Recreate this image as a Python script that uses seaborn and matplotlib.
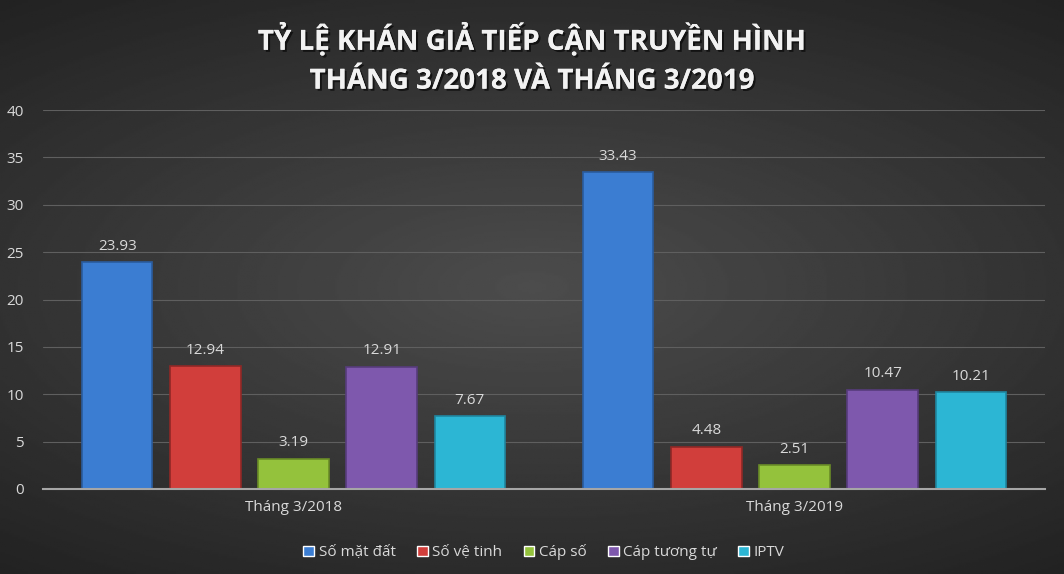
import numpy as np
import pandas as pd
import matplotlib
matplotlib.use("Agg")
import matplotlib.pyplot as plt
import matplotlib.patheffects as pe
import seaborn as sns

# Data
groups = ["Tháng 3/2018", "Tháng 3/2019"]
series = ["Số mặt đất", "Số vệ tinh", "Cáp số", "Cáp tương tự", "IPTV"]
values_2018 = [23.93, 12.94, 3.19, 12.91, 7.67]
values_2019 = [33.43, 4.48, 2.51, 10.47, 10.21]
colors = ["#3b7dd2", "#d13e3b", "#94c23c", "#7e58ad", "#2cb6d4"]
edges = ["#2a5c9e", "#8f2826", "#6a8c27", "#573c7c", "#1f86a0"]

df = pd.DataFrame({
    "group": [groups[0]] * len(series) + [groups[1]] * len(series),
    "series": series * 2,
    "value": values_2018 + values_2019,
})

sns.set_theme(style="dark")
plt.rcParams["font.family"] = ["Open Sans", "DejaVu Sans"]

fig = plt.figure(figsize=(10.64, 5.74), dpi=100)

# radial gradient background
bg = fig.add_axes([0, 0, 1, 1], zorder=-10)
yy, xx = np.mgrid[-1:1:300j, -1:1:560j]
r = np.sqrt((xx * 0.8) ** 2 + (yy * 1.0) ** 2)
bg.imshow(0.30 - 0.13 * np.clip(r, 0, 1.4), cmap="gray", vmin=0, vmax=1,
          aspect="auto", extent=[0, 1, 0, 1])
bg.axis("off")

ax = fig.add_axes([43 / 1064, 1 - 489 / 574, (1045 - 43) / 1064, (489 - 110) / 574])
ax.set_facecolor("none")

sns.barplot(data=df, x="group", y="value", hue="series", palette=colors,
            width=0.88, gap=0.2, ax=ax, legend=True, saturation=1)

for i, cont in enumerate(ax.containers):
    for bar in cont:
        bar.set_edgecolor(edges[i])
        bar.set_linewidth(1.2)
    ax.bar_label(cont, labels=[f"{v:.2f}" for v in cont.datavalues],
                 padding=6, color="#d9d9d9", fontsize=11)

ax.set_ylim(0, 40)
ax.set_yticks(range(0, 41, 5))
ax.set_xlim(-0.5, 1.5)
ax.grid(axis="y", color="#5f5f5f", linewidth=0.8)
ax.set_axisbelow(True)
for s in ["top", "right", "left"]:
    ax.spines[s].set_visible(False)
ax.spines["bottom"].set_color("#a6a6a6")
ax.spines["bottom"].set_linewidth(1.5)
ax.tick_params(axis="both", colors="#d9d9d9", labelsize=11, length=0)
ax.tick_params(axis="y", pad=14)
ax.tick_params(axis="x", pad=8)
ax.set_xlabel("")
ax.set_ylabel("")

leg = ax.legend(loc="upper center", bbox_to_anchor=(0.5, -0.11), ncol=5,
                frameon=False, fontsize=11, handlelength=0.7, handleheight=0.7,
                handletextpad=0.3, columnspacing=1.4)
for t in leg.get_texts():
    t.set_color("#d9d9d9")

fig.text(0.5, 0.897, "TỶ LỆ KHÁN GIẢ TIẾP CẬN TRUYỀN HÌNH\nTHÁNG 3/2018 VÀ THÁNG 3/2019",
         ha="center", va="center", fontsize=20, fontweight="bold", color="#f2f2f2",
         linespacing=1.45,
         path_effects=[pe.withSimplePatchShadow(offset=(1.5, -1.5), shadow_rgbFace="black", alpha=0.6),
                       pe.Normal()])

fig.savefig("out.png", dpi=100)
